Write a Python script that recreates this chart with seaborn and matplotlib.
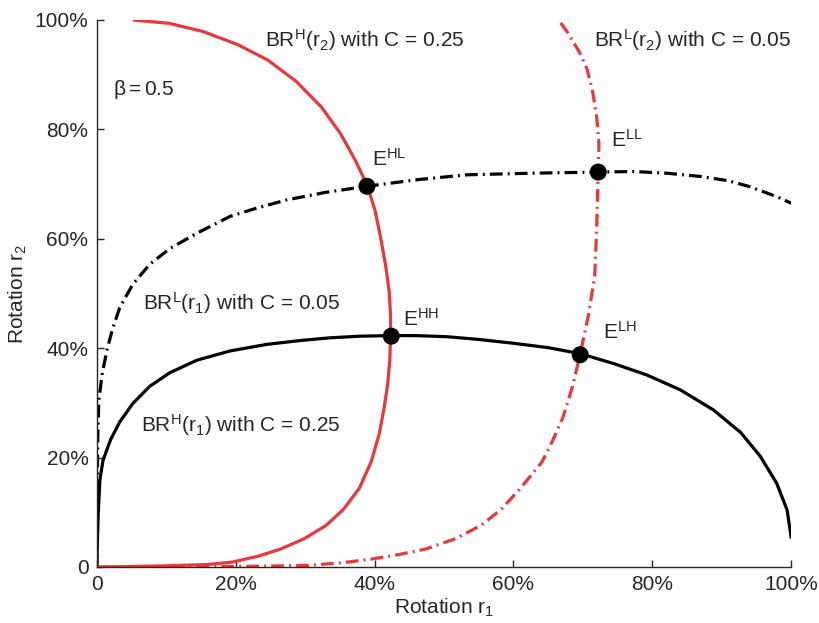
import matplotlib
matplotlib.use('Agg')
import matplotlib.pyplot as plt
import seaborn as sns
import pandas as pd

# best response curves, (own rotation, other rotation) in %
# the red curves are the same responses seen from player 2 (axes swapped)
brh_own = [0, 0.1, 0.2, 0.45, 0.9, 2.0, 3.3, 5.2, 7.6, 10.5, 14.4, 19.2, 24.5, 29.3,
           33.6, 38, 42.4, 46, 50.4, 55, 60, 65, 69.6, 74.4, 79.2, 84.0, 88.8, 92.7,
           95.5, 97.9, 99.4, 100]
brh_other = [0, 5, 9.5, 15.9, 19.5, 23.3, 26.5, 29.9, 33.0, 35.5, 37.8, 39.5, 40.7, 41.4,
             41.9, 42.2, 42.3, 42.3, 42.1, 41.6, 40.9, 40.1, 39.0, 37.2, 35.1, 32.4, 28.7,
             24.6, 20.3, 15.3, 10.4, 5.2]

brl_own = [0, 0.05, 0.15, 0.3, 0.8, 1.5, 2.2, 3.3, 5.2, 7.6, 10.5, 14.4, 19.2, 23.0,
           27.3, 33, 38.9, 46.1, 53.3, 62.9, 72.2, 77.3, 82, 86.9, 91, 94.1, 97.9, 100]
brl_other = [0, 12, 24, 30.5, 35.5, 39.8, 43.2, 47.4, 51.7, 55.3, 58.2, 61.0, 64.1, 65.6,
             67.1, 68.5, 69.6, 70.8, 71.7, 72.0, 72.2, 72.3, 72.0, 71.4, 70.6, 69.5,
             67.7, 66.5]

eq_names = ['HL', 'LL', 'HH', 'LH']
eq_r1 = [38.9, 72.2, 42.4, 69.6]
eq_r2 = [69.6, 72.2, 42.2, 38.8]

ticks = [0, 20, 40, 60, 80, 100]
tick_labels = ['0', '20%', '40%', '60%', '80%', '100%']

sns.set_style('ticks')
plt.rcParams['font.family'] = ['Liberation Sans', 'DejaVu Sans']
plt.rcParams['mathtext.fontset'] = 'custom'
plt.rcParams['mathtext.rm'] = 'Liberation Sans'
plt.rcParams['mathtext.it'] = 'Liberation Sans'
plt.rcParams['xtick.direction'] = 'in'
plt.rcParams['ytick.direction'] = 'in'

red = '#e8383b'
lw = 2.3
dashdot = (4, 1.6, 0.6, 1.6)

fig = plt.figure(figsize=(8.2, 6.23), dpi=100)
ax = fig.add_axes([0.118, 0.0899, 0.847, 0.878])

brh = pd.DataFrame({'own': brh_own, 'other': brh_other})
brl = pd.DataFrame({'own': brl_own, 'other': brl_other})

# player 1 best responses (black)
sns.lineplot(data=brh, x='own', y='other', sort=False, estimator=None,
             color='black', linewidth=lw, ax=ax)
l = sns.lineplot(data=brl, x='own', y='other', sort=False, estimator=None,
                 color='black', linewidth=lw, ax=ax).lines[-1]
l.set_dashes(dashdot)
# player 2 best responses (red)
sns.lineplot(data=brh, x='other', y='own', sort=False, estimator=None,
             color=red, linewidth=lw, ax=ax)
l = sns.lineplot(data=brl, x='other', y='own', sort=False, estimator=None,
                 color=red, linewidth=lw, ax=ax).lines[-1]
l.set_dashes(dashdot)
for ln in ax.lines:
    ln.set_solid_joinstyle('round')
    ln.set_solid_capstyle('butt')

sns.scatterplot(x=eq_r1, y=eq_r2, color='black', s=150, edgecolor='none', zorder=5, ax=ax)

fs = 15
ax.text(2.3, 86.3, r'$\mathrm{\beta = 0.5}$', fontsize=fs)
ax.text(24.2, 95.1, r'BR$^{\mathrm{H}}$(r$_{\mathrm{2}}$) with C = 0.25', fontsize=fs)
ax.text(71.6, 95.1, r'BR$^{\mathrm{L}}$(r$_{\mathrm{2}}$) with C = 0.05', fontsize=fs)
ax.text(6.6, 47.0, r'BR$^{\mathrm{L}}$(r$_{\mathrm{1}}$) with C = 0.05', fontsize=fs)
ax.text(6.3, 24.7, r'BR$^{\mathrm{H}}$(r$_{\mathrm{1}}$) with C = 0.25', fontsize=fs)
eq_lbl_x = [39.6, 74.1, 44.1, 72.9]
eq_lbl_y = [73.3, 76.8, 44.1, 41.8]
for name, lx, ly in zip(eq_names, eq_lbl_x, eq_lbl_y):
    ax.text(lx, ly, r'E$^{\mathrm{%s}}$' % name, fontsize=fs)

ax.set_xlim(0, 100)
ax.set_ylim(0, 100)
ax.set_xticks(ticks)
ax.set_xticklabels(tick_labels, fontsize=fs)
ax.set_yticks(ticks)
ax.set_yticklabels(tick_labels, fontsize=fs)
ax.tick_params(length=5, width=1, pad=6)
ax.set_xlabel(r'Rotation r$_{\mathrm{1}}$', fontsize=fs, labelpad=2)
ax.set_ylabel(r'Rotation r$_{\mathrm{2}}$', fontsize=fs, labelpad=4)
sns.despine(ax=ax)
for sp in ax.spines.values():
    sp.set_linewidth(1)

fig.savefig('out.png', dpi=100)
